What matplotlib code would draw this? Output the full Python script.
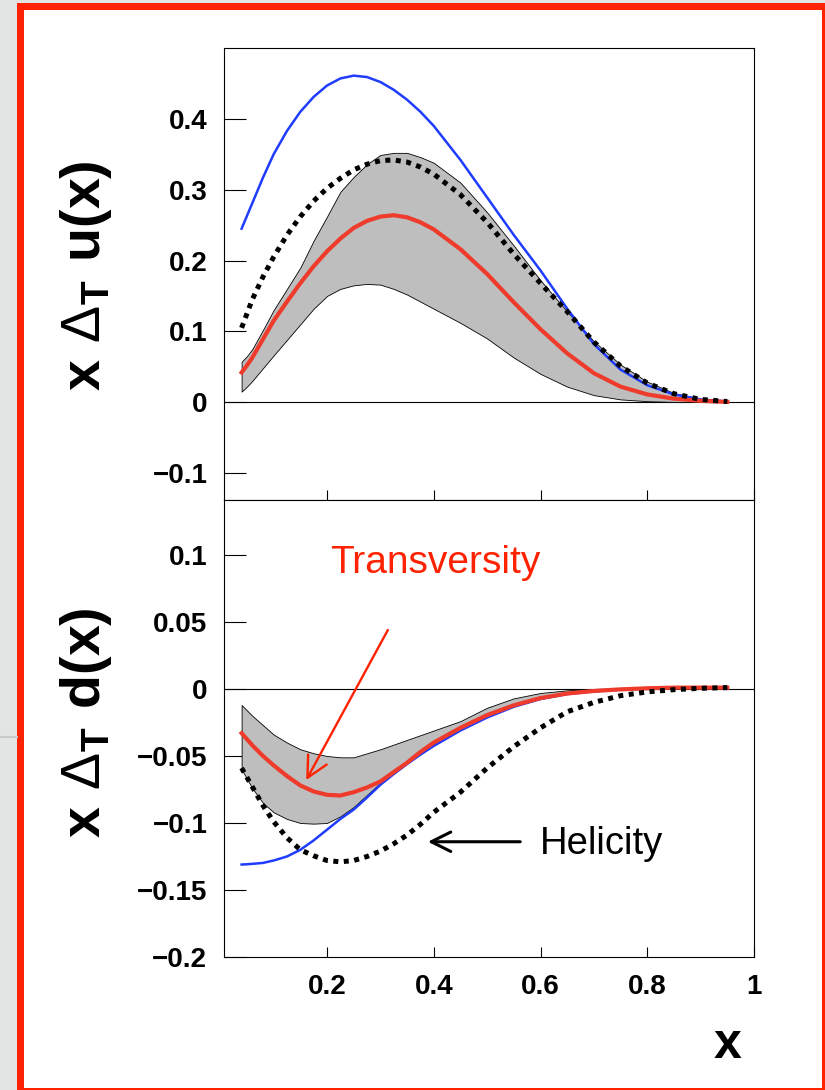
import matplotlib
matplotlib.use("Agg")
import matplotlib.pyplot as plt
import matplotlib.patches as mpatches
import matplotlib.lines as mlines
import numpy as np

plt.rcParams['font.family'] = ['Liberation Sans', 'DejaVu Sans']
plt.rcParams['mathtext.fontset'] = 'custom'
plt.rcParams['mathtext.rm'] = 'Liberation Sans'
plt.rcParams['mathtext.bf'] = 'Liberation Sans:bold'

# x grid
x = [0.04, 0.05, 0.06, 0.08, 0.10, 0.125, 0.15, 0.175, 0.20, 0.225,
     0.25, 0.275, 0.30, 0.325, 0.35, 0.375, 0.40, 0.45, 0.50, 0.55,
     0.60, 0.65, 0.70, 0.75, 0.80, 0.85, 0.90, 0.95]

# up quark
u_helicity_blue = [0.245, 0.263, 0.281, 0.317, 0.350, 0.383, 0.410, 0.431, 0.447, 0.457,
                   0.461, 0.459, 0.452, 0.441, 0.427, 0.410, 0.390, 0.342, 0.289, 0.236,
                   0.186, 0.132, 0.082, 0.046, 0.024, 0.011, 0.004, 0.001]
u_helicity_dot = [0.105, 0.125, 0.145, 0.177, 0.205, 0.236, 0.262, 0.284, 0.302, 0.316,
                  0.328, 0.336, 0.341, 0.342, 0.339, 0.332, 0.322, 0.293, 0.254, 0.209,
                  0.168, 0.128, 0.085, 0.051, 0.027, 0.012, 0.004, 0.001]
u_transv = [0.042, 0.052, 0.063, 0.089, 0.115, 0.142, 0.168, 0.192, 0.213, 0.231,
            0.246, 0.256, 0.262, 0.264, 0.261, 0.254, 0.244, 0.216, 0.181, 0.141,
            0.103, 0.069, 0.041, 0.022, 0.011, 0.005, 0.002, 0.0005]
u_band_hi = [0.057, 0.065, 0.075, 0.102, 0.130, 0.160, 0.190, 0.228, 0.262, 0.297,
             0.318, 0.336, 0.349, 0.352, 0.352, 0.346, 0.338, 0.310, 0.268, 0.221,
             0.172, 0.128, 0.086, 0.053, 0.029, 0.013, 0.005, 0.001]
u_band_lo = [0.015, 0.022, 0.030, 0.048, 0.066, 0.088, 0.110, 0.132, 0.150, 0.160,
             0.165, 0.167, 0.166, 0.160, 0.152, 0.142, 0.132, 0.112, 0.090, 0.063,
             0.040, 0.022, 0.010, 0.004, 0.0015, 0.0005, 0.0002, 0.0]

# down quark
d_helicity_blue = [-0.131, -0.1308, -0.1305, -0.1298, -0.128, -0.125, -0.120, -0.113, -0.105, -0.097,
                   -0.090, -0.081, -0.0715, -0.0635, -0.056, -0.049, -0.0425, -0.031, -0.0213, -0.0133,
                   -0.0075, -0.0038, -0.0018, -0.0005, 0.0003, 0.0008, 0.001, 0.001]
d_helicity_dot = [-0.059, -0.066, -0.073, -0.087, -0.099, -0.111, -0.120, -0.1245, -0.128, -0.129,
                  -0.128, -0.125, -0.121, -0.1155, -0.109, -0.101, -0.092, -0.077, -0.059, -0.043,
                  -0.029, -0.017, -0.010, -0.005, -0.0022, -0.0005, 0.0005, 0.001]
d_transv = [-0.033, -0.0375, -0.042, -0.050, -0.057, -0.065, -0.072, -0.0765, -0.079, -0.0795,
            -0.077, -0.0735, -0.069, -0.062, -0.055, -0.047, -0.040, -0.029, -0.0195, -0.0122,
            -0.0068, -0.0034, -0.0015, -0.0003, 0.0005, 0.001, 0.001, 0.001]
d_band_hi = [-0.012, -0.016, -0.020, -0.027, -0.034, -0.040, -0.045, -0.048, -0.050, -0.051,
             -0.051, -0.048, -0.045, -0.0415, -0.038, -0.0345, -0.031, -0.024, -0.014, -0.007,
             -0.003, -0.001, 0.0, 0.0005, 0.001, 0.001, 0.001, 0.001]
d_band_lo = [-0.060, -0.067, -0.074, -0.085, -0.092, -0.097, -0.100, -0.1005, -0.100, -0.095,
             -0.088, -0.079, -0.070, -0.0625, -0.055, -0.048, -0.041, -0.030, -0.0205, -0.0128,
             -0.0072, -0.0036, -0.0016, -0.0004, 0.0004, 0.0008, 0.001, 0.001]

u_yticks = [-0.1, 0, 0.1, 0.2, 0.3, 0.4]
u_yticklabels = ['\u22120.1', '0', '0.1', '0.2', '0.3', '0.4']
d_yticks = [-0.2, -0.15, -0.1, -0.05, 0, 0.05, 0.1]
d_yticklabels = ['\u22120.2', '\u22120.15', '\u22120.1', '\u22120.05', '0', '0.05', '0.1']
xticks = [0.2, 0.4, 0.6, 0.8, 1.0]
xticklabels = ['0.2', '0.4', '0.6', '0.8', '1']

W, H = 825, 1090
BLUE = '#1f3cff'
RED = '#ee3b2b'
BAND = '#bebebe'
FRAME_RED = '#ff2200'


def px_rect(x0, y0, x1, y1):
    # pixel box (top-left origin) -> figure fraction rectangle args
    return (x0 / W, 1 - y1 / H), (x1 - x0) / W, (y1 - y0) / H


fig = plt.figure(figsize=(W / 100, H / 100), dpi=100, facecolor='#e3e5e5')

# slide frame: white page with red border
for (x0, y0, x1, y1), col in [((17, 3, 830, 1095), FRAME_RED),
                              ((24, 10, 822, 1088), 'white')]:
    xy, w, h = px_rect(x0, y0, x1, y1)
    fig.add_artist(mpatches.Rectangle(xy, w, h, transform=fig.transFigure,
                                      facecolor=col, edgecolor='none', zorder=-10))
fig.add_artist(mlines.Line2D([0, 17 / W], [1 - 737 / H, 1 - 737 / H], transform=fig.transFigure,
                             color='#c9cbcb', lw=1.5, zorder=-9))

left, width = 224 / W, 530 / W
ax_u = fig.add_axes([left, 1 - 500 / H, width, 452 / H])
ax_d = fig.add_axes([left, 1 - 957 / H, width, 457 / H])


def style_axis(ax):
    ax.set_xlim(0.007, 1.0)
    ax.axhline(0, color='black', lw=0.8, zorder=1)
    for sp in ax.spines.values():
        sp.set_linewidth(0.8)
    ax.tick_params(axis='y', direction='in', length=16, width=0.8, pad=12,
                   labelsize=20, right=False)
    ax.tick_params(axis='x', direction='in', length=7, width=0.8, pad=12,
                   labelsize=20, top=False)
    ax.set_xticks(xticks)
    for lab in ax.get_yticklabels() + ax.get_xticklabels():
        lab.set_fontweight('bold')


def draw_curves(ax, band_lo, band_hi, blue, transv, dots):
    ax.fill_between(x, band_lo, band_hi, facecolor=BAND, edgecolor='black', lw=0.6, zorder=2)
    ax.plot(x, blue, color=BLUE, lw=1.8, zorder=3)
    ax.plot(x, transv, color=RED, lw=3.0, zorder=4)
    ax.plot(x, dots, color='black', lw=3.6, linestyle=(0, (1, 1.1)),
            dash_capstyle='butt', zorder=5)


# top panel: u
draw_curves(ax_u, u_band_lo, u_band_hi, u_helicity_blue, u_transv, u_helicity_dot)
ax_u.set_ylim(-0.138, 0.5)
ax_u.set_yticks(u_yticks)
ax_u.set_yticklabels(u_yticklabels)
ax_u.set_xticklabels([])
style_axis(ax_u)

# bottom panel: d
draw_curves(ax_d, d_band_lo, d_band_hi, d_helicity_blue, d_transv, d_helicity_dot)
ax_d.set_ylim(-0.2, 0.141)
ax_d.set_yticks(d_yticks)
ax_d.set_yticklabels(d_yticklabels)
ax_d.set_xticklabels(xticklabels)
style_axis(ax_d)

# annotations
ax_d.text(0.403, 0.094, 'Transversity', color=FRAME_RED, fontsize=28,
          ha='center', va='center')
ax_d.annotate('', xy=(0.161, -0.068), xytext=(0.314, 0.044),
              arrowprops=dict(arrowstyle='->,head_length=0.75,head_width=0.38',
                              color=FRAME_RED, lw=1.7, shrinkA=0, shrinkB=0,
                              mutation_scale=20))
ax_d.text(0.715, -0.116, 'Helicity', color='black', fontsize=27.5,
          ha='center', va='center')
ax_d.annotate('', xy=(0.389, -0.114), xytext=(0.562, -0.114),
              arrowprops=dict(arrowstyle='->,head_length=0.7,head_width=0.35',
                              color='black', lw=2.2, shrinkA=0, shrinkB=0,
                              mutation_scale=20))

# axis titles
fig.text(86 / W, 1 - 276 / H, r'$\mathbf{x}\ \Delta_{\mathbf{T}}\ \mathbf{u(x)}$',
         rotation=90, fontsize=40, ha='center', va='center')
fig.text(86 / W, 1 - 723 / H, r'$\mathbf{x}\ \Delta_{\mathbf{T}}\ \mathbf{d(x)}$',
         rotation=90, fontsize=40, ha='center', va='center')
fig.text(728 / W, 1 - 1045 / H, 'x', fontsize=36, fontweight='bold',
         ha='center', va='center')

fig.savefig('out.png', dpi=100, facecolor=fig.get_facecolor())
